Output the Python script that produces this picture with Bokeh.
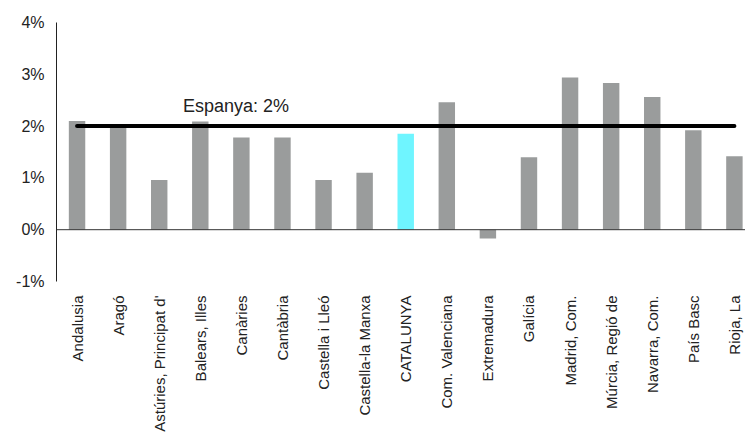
import math
from bokeh.plotting import figure
from bokeh.models import FixedTicker, Span, Range1d, Label
from bokeh.embed import file_html
from bokeh.resources import INLINE

categories = ["Andalusia", "Aragó", "Astúries, Principat d'", "Balears, Illes", "Canàries",
              "Cantàbria", "Castella i Lleó", "Castella-la Manxa", "CATALUNYA",
              "Com. Valenciana", "Extremadura", "Galícia", "Madrid, Com.",
              "Múrcia, Regió de", "Navarra, Com.", "País Basc", "Rioja, La"]
values = [2.10, 2.02, 0.96, 2.09, 1.78, 1.78, 0.96, 1.10, 1.85, 2.46, -0.17, 1.40,
          2.94, 2.83, 2.56, 1.92, 1.42]
highlight = "CATALUNYA"
spain_value = 2.0
spain_label = "Espanya: 2%"
y_ticks = [-1, 0, 1, 2, 3, 4]
y_tick_labels = ["-1%", "0%", "1%", "2%", "3%", "4%"]

FONT = "Liberation Sans"
GREY = "#9a9c9c"
CYAN = "#6ff5ff"

xs = list(range(len(categories)))
colors = [CYAN if c == highlight else GREY for c in categories]

p = figure(width=745, height=434, output_backend="svg", toolbar_location=None,
           x_range=Range1d(-0.5, 16.27), y_range=Range1d(-1, 4),
           min_border_left=56, min_border_right=0, min_border_top=22, min_border_bottom=152)
p.outline_line_color = None
p.grid.grid_line_color = None
p.background_fill_color = "white"
p.border_fill_color = "white"

p.vbar(x=xs, top=values, bottom=0, width=0.4, fill_color=colors, line_color=None)

p.add_layout(Span(location=0, dimension="width", line_color="#333333", line_width=1))

p.line(x=[xs[0], xs[-1]], y=[spain_value, spain_value], line_color="black",
       line_width=4, line_cap="round")
p.add_layout(Label(x=2.58, y=2.38, text=spain_label, text_font=FONT,
                   text_font_size="18px", text_color="#222222", text_baseline="alphabetic"))

p.yaxis.ticker = FixedTicker(ticks=y_ticks)
p.yaxis.major_label_overrides = {t: l for t, l in zip(y_ticks, y_tick_labels)}
p.yaxis.major_tick_line_color = None
p.yaxis.minor_tick_line_color = None
p.yaxis.axis_line_color = "#222222"
p.yaxis.major_label_text_font = FONT
p.yaxis.major_label_text_font_size = "16px"
p.yaxis.major_label_text_color = "#222222"
p.yaxis.major_label_standoff = 6

p.xaxis.ticker = FixedTicker(ticks=xs)
p.xaxis.major_label_overrides = {i: c for i, c in zip(xs, categories)}
p.xaxis.major_label_orientation = math.pi / 2
p.xaxis.axis_line_color = None
p.xaxis.major_tick_line_color = None
p.xaxis.minor_tick_line_color = None
p.xaxis.major_label_text_font = FONT
p.xaxis.major_label_text_font_size = "15px"
p.xaxis.major_label_text_color = "#222222"
p.xaxis.major_label_standoff = 8

open("out.html", "w").write(file_html(p, INLINE))
